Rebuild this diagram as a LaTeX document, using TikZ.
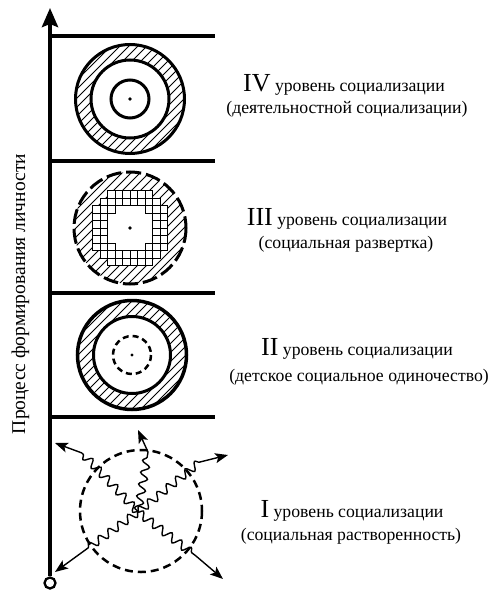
\documentclass[tikz,border=0pt]{standalone}
\usepackage{fontspec}
\setmainfont{Liberation Serif}
\usetikzlibrary{arrows.meta,decorations.pathmorphing}
\newcommand\romnum{\fontsize{26}{26}\selectfont}
\newcommand\hatchdisk[3]{%
  \begin{scope}
    \clip (#1,#2) circle (#3);
    \foreach \k in {-16,...,16}{
      \draw[hatchline] ({#1+\k*9-90},{#2+90}) -- ({#1+\k*9+90},{#2-90});
    }
  \end{scope}}
\begin{document}
\begin{tikzpicture}[x=1pt,y=-1pt,
  axis/.style={line width=4.5pt},
  shelf/.style={line width=4pt},
  ring/.style={line width=3pt},
  hatchline/.style={line width=0.8pt},
  gridcell/.style={line width=0.75pt},
  bigdash/.style={line width=3pt, dash pattern=on 15pt off 5pt},
  smalldash/.style={line width=2.5pt, dash pattern=on 6pt off 4pt},
  widedash/.style={line width=2.5pt, dash pattern=on 8pt off 5pt},
  wave/.style={line width=1.4pt, decorate, decoration={snake, amplitude=4pt, segment length=12pt}},
  arm/.style={line width=1.4pt, -{Stealth[length=13pt,width=10pt,inset=3pt]}},
  lvl/.style={font=\fontsize{17.7}{20}\selectfont, anchor=base, inner sep=0pt},
  vert/.style={font=\fontsize{19.5}{20}\selectfont, anchor=base, inner sep=0pt, rotate=90}
]
\useasboundingbox (0,0) rectangle (496,596);

% axis
\node[circle, draw, line width=2.3pt, minimum size=11pt, inner sep=0pt] (base) at (50,583) {};
\coordinate (top) at (50,8);
\draw[axis, -{Stealth[length=19pt,width=16pt,inset=3pt]}] (base.north) -- (top);

% shelves
\foreach \y/\n in {36/a,161/b,293/c,417/d}{
  \coordinate (s\n l) at (48,\y);
  \coordinate (s\n r) at (215,\y);
  \draw[shelf] (s\n l) -- (s\n r);
}

% ---- level IV
\hatchdisk{130}{99}{54.5}
\fill[white] (130,99) circle (39);
\draw[ring] (130,99) circle (54.5);
\draw[ring] (130,99) circle (39);
\draw[ring] (130,99) circle (19);
\fill (130,99) circle (1.8);

% ---- level III
\hatchdisk{130}{228}{56}
\foreach \i in {-6,...,5}{
  \foreach \j in {-6,...,5}{
    \pgfmathsetmacro\dd{veclen((\i+0.5)*7.5,(\j+0.5)*7.5)}
    \ifdim\dd pt<41pt
      \fill[white] ({130+\i*7.5},{228+\j*7.5}) rectangle ++(7.5,7.5);
    \fi
  }
}
\foreach \i in {-6,...,5}{
  \foreach \j in {-6,...,5}{
    \pgfmathsetmacro\dd{veclen((\i+0.5)*7.5,(\j+0.5)*7.5)}
    \ifdim\dd pt<41pt
      \ifdim\dd pt>22pt
        \draw[gridcell] ({130+\i*7.5},{228+\j*7.5}) rectangle ++(7.5,7.5);
      \fi
    \fi
  }
}
\draw[bigdash] (130,228) circle (56);
\fill (130,228) circle (1.8);

% ---- level II
\hatchdisk{132}{355}{54.5}
\fill[white] (132,355) circle (38.5);
\draw[line width=3.5pt] (132,355) circle (54.5);
\draw[ring] (132,355) circle (38.5);
\draw[smalldash] (132,355) circle (19);
\fill (132,355) circle (1.6);

% ---- level I
\draw[widedash] (141,511) circle (61);
\coordinate (c) at (138,512);
\coordinate (ulm) at (82,453);  \coordinate (ult) at (55,443);
\coordinate (upm) at (148,452); \coordinate (upt) at (138,430);
\coordinate (urm) at (200,462); \coordinate (urt) at (228,455);
\coordinate (llm) at (88,548);  \coordinate (llt) at (55,572);
\coordinate (lrm) at (196,556); \coordinate (lrt) at (223,579);
\foreach \a in {ul,up,ur,ll,lr}{
  \draw[wave] (c) -- (\a m);
  \draw[arm] (\a m) -- (\a t);
}

% ---- texts
\node[lvl] (t4a) at (344,92) {{\romnum IV} уровень социализации};
\node[lvl] (t4b) at (347,114) {(деятельностной социализации)};
\node[lvl] (t3a) at (347,225) {{\romnum III} уровень социализации};
\node[lvl] (t3b) at (346,248) {(социальная развертка)};
\node[lvl] (t2a) at (357,355) {{\romnum II} уровень социализации};
\node[lvl] (t2b) at (359,381) {(детское социальное одиночество)};
\node[lvl] (t1a) at (352,517) {{\romnum I} уровень социализации};
\node[lvl] (t1b) at (351,540) {(социальная растворенность)};

\node[vert] (ax) at (25,294) {Процесс формирования личности};
\end{tikzpicture}
\end{document}
